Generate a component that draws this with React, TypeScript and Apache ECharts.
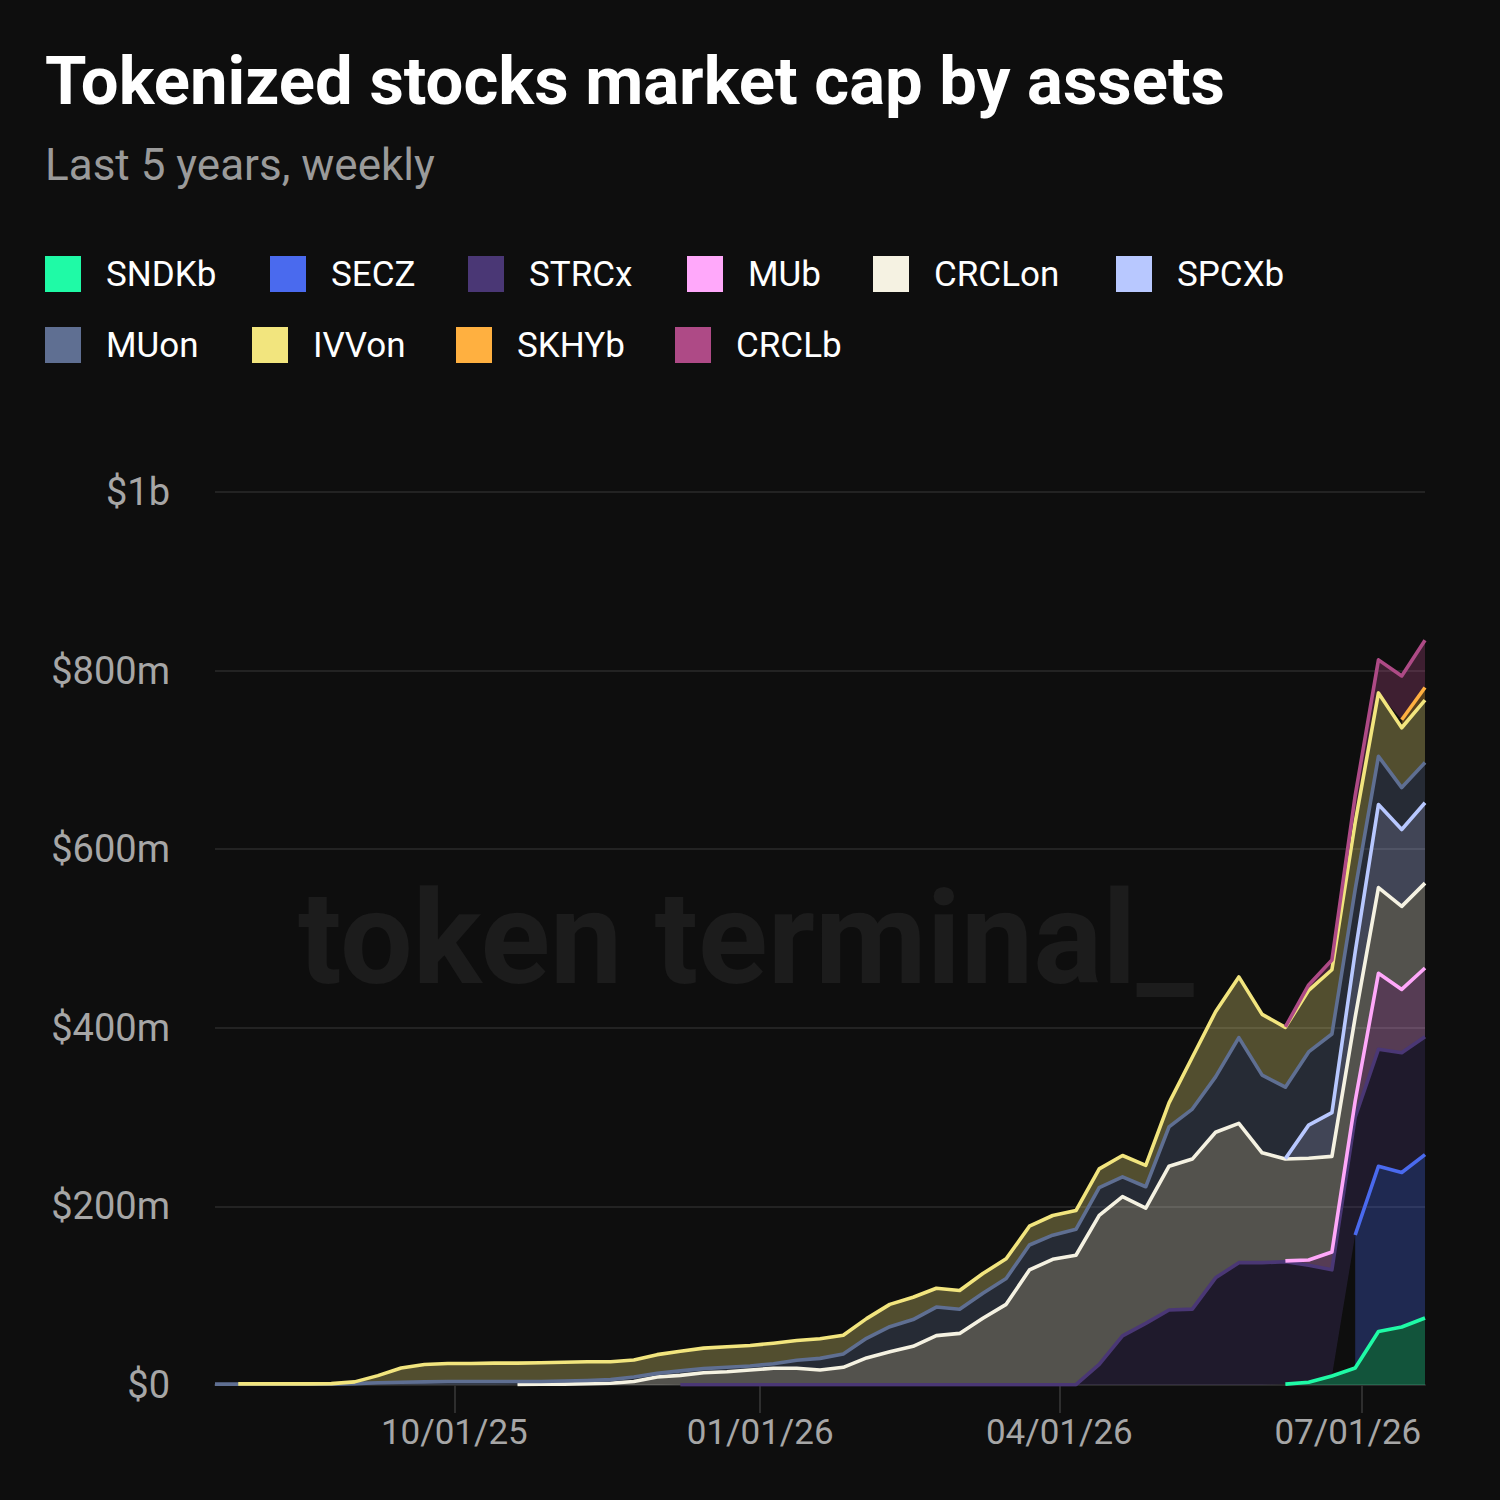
import React, { useEffect, useRef } from "react";
import * as echarts from "echarts";

const startDate = Date.UTC(2025, 6, 21);
const WEEK = 7 * 24 * 3600 * 1000;

const seriesNames = ["SNDKb", "SECZ", "STRCx", "MUb", "CRCLon", "SPCXb", "MUon", "IVVon", "SKHYb", "CRCLb"];
const seriesColors = ["#1ffaa6", "#4a6aee", "#4a3775", "#ffa8fa", "#f5f2e2", "#b8c8ff", "#5f6f92", "#f2e57e", "#ffb040", "#ae4a86"];

const N = null;
// values in $m, weekly
const SNDKb = [N,N,N,N,N,N,N,N,N,N, N,N,N,N,N,N,N,N,N,N, N,N,N,N,N,N,N,N,N,N, N,N,N,N,N,N,N,N,N,N, N,N,N,N,N,N, 1,3,10,19,60,65,75];
const SECZ = [N,N,N,N,N,N,N,N,N,N, N,N,N,N,N,N,N,N,N,N, N,N,N,N,N,N,N,N,N,N, N,N,N,N,N,N,N,N,N,N, N,N,N,N,N,N,N,N,N, 149,185,173,183];
const STRCx = [N,N,N,N,N,N,N,N,N,N, N,N,N,N,N,N,N,N,N,N, 0.3,0.3,0.3,0.3,0.3,0.3,0.3,0.3,0.3,0.3, 0.3,0.3,0.3,0.3,0.3,0.3,0.3,0.3, 23,55,69,84,85,120,137,137,137,131,119,132,131,134,132];
const MUb = [N,N,N,N,N,N,N,N,N,N, N,N,N,N,N,N,N,N,N,N, N,N,N,N,N,N,N,N,N,N, N,N,N,N,N,N,N,N,N,N, N,N,N,N,N,N, 1,6,20,18,85,71,77];
const CRCLon = [N,N,N,N,N,N,N,N,N,N, N,N,N, 0.5,1,1,1.5,2,4,9, 10.5,13.5,14.5,16.5,18.5,18.5,16.5,19.5,30,37, 43,55,57.5,74.5,90,128.5,140.5,145,167,156, 129,161,168,163,156,123,114,114,107,94,96,93,95];
const SPCXb = [N,N,N,N,N,N,N,N,N,N, N,N,N,N,N,N,N,N,N,N, N,N,N,N,N,N,N,N,N,N, N,N,N,N,N,N,N,N,N,N, N,N,N,N,N,N, 0.5,37,49,73,93,86,90];
const MUon = [1,1,1,1,1,1,1.5,2.5,3,3.5, 4,4,4,3.5,3,3.5,3.5,4,5,4, 5,4.5,5,4.5,5,9,13,15,22,28, 30,32,27,28,29,28,27,29,31,22, 24,44,56,62,96,87,80,82,88,70,54,47,45];
const IVVon = [N,0.3,0.3,0.3,0.3,0.5,2,8,16,19.5, 20,20,20.5,20.5,21,21,21,20,19,21, 22,23,23,23,23,22,22,21,22,25, 25,21,21,22,22,21,22,21,21,24, 24,27,58,73,68,68,67,69,72,75,71,67,70];
const SKHYb = [N,N,N,N,N,N,N,N,N,N, N,N,N,N,N,N,N,N,N,N, N,N,N,N,N,N,N,N,N,N, N,N,N,N,N,N,N,N,N,N, N,N,N,N,N,N,N,N,N,N,N, 9,14];
const CRCLb = [N,N,N,N,N,N,N,N,N,N, N,N,N,N,N,N,N,N,N,N, N,N,N,N,N,N,N,N,N,N, N,N,N,N,N,N,N,N,N,N, N,N,N,N,N,N, 0.5,6,11,30,37,49,53];

const seriesValues = [SNDKb, SECZ, STRCx, MUb, CRCLon, SPCXb, MUon, IVVon, SKHYb, CRCLb];

const xTickDates = [Date.UTC(2025, 9, 1), Date.UTC(2026, 0, 1), Date.UTC(2026, 3, 1), Date.UTC(2026, 6, 1)];

const legendPositions = [
  [45, 256], [270, 256], [468, 256], [687, 256], [873, 256], [1116, 256],
  [45, 327], [252, 327], [456, 327], [675, 327],
];

const FONT = "Roboto";

function fmtDate(v: number) {
  const d = new Date(v);
  const mm = String(d.getUTCMonth() + 1).padStart(2, "0");
  const dd = String(d.getUTCDate()).padStart(2, "0");
  const yy = String(d.getUTCFullYear() % 100).padStart(2, "0");
  return `${mm}/${dd}/${yy}`;
}

export default function App() {
  const ref = useRef<HTMLDivElement>(null);
  useEffect(() => {
    document.body.style.margin = "0";
    document.body.style.background = "#0e0e0e";
    if (!ref.current) return;
    const chart = echarts.init(ref.current, null, { renderer: "svg" });
    const dates = SNDKb.map((_, i) => startDate + i * WEEK);
    const lastTick = xTickDates[xTickDates.length - 1];

    const series = seriesNames.map((name, si) => ({
      name,
      type: "line",
      stack: "total",
      xAxisIndex: 0,
      yAxisIndex: 0,
      symbol: "none",
      connectNulls: false,
      color: seriesColors[si],
      lineStyle: { width: 3.6, color: seriesColors[si], join: "round" },
      areaStyle: { color: seriesColors[si], opacity: 0.3 },
      itemStyle: { color: seriesColors[si] },
      emphasis: { disabled: true },
      data: seriesValues[si].map((v) => (v == null ? "-" : v)),
      z: 2,
    }));

    const legends = seriesNames.map((name, i) => ({
      left: legendPositions[i][0],
      top: legendPositions[i][1],
      padding: 0,
      data: [name],
      icon: "rect",
      itemWidth: 36,
      itemHeight: 36,
      selectedMode: false,
      itemStyle: { borderWidth: 0 },
      textStyle: { color: "#ffffff", fontSize: 35, fontFamily: FONT, padding: [0, 0, 0, 20] },
    }));

    chart.setOption({
      animation: false,
      backgroundColor: "#0e0e0e",
      title: {
        text: "Tokenized stocks market cap by assets",
        subtext: "Last 5 years, weekly",
        left: 40,
        top: 42,
        itemGap: 29,
        textStyle: { color: "#ffffff", fontSize: 67, fontWeight: "bold", fontFamily: FONT },
        subtextStyle: { color: "#9a9a9a", fontSize: 44, fontFamily: FONT },
      },
      legend: legends,
      graphic: [
        {
          type: "text",
          x: 298,
          y: 874,
          z: 0,
          silent: true,
          style: { text: "token terminal_", fontSize: 129, fontWeight: 700, fontFamily: FONT, fill: "#1c1c1c" },
        },
      ],
      grid: { left: 215, right: 75, top: 492, bottom: 115 },
      xAxis: [
        {
          type: "category",
          position: "bottom",
          boundaryGap: false,
          data: dates.map(fmtDate),
          axisLine: { show: false },
          axisTick: { show: false },
          axisLabel: { show: false },
          splitLine: { show: false },
        },
        {
          type: "value",
          position: "bottom",
          min: dates[0],
          max: dates[dates.length - 1],
          axisLine: { show: true, lineStyle: { color: "#2a2a2a", width: 2 } },
          axisTick: { show: true, customValues: xTickDates, length: 28, lineStyle: { color: "#2e2e2e", width: 2 } },
          splitLine: { show: false },
          axisLabel: {
            customValues: xTickDates,
            color: "#a6a6a6",
            fontSize: 35,
            fontFamily: FONT,
            margin: 30,
            formatter: (v: number) => (v === lastTick ? `{last|${fmtDate(v)}}` : fmtDate(v)),
            rich: { last: { padding: [0, 28, 0, 0], color: "#a6a6a6", fontSize: 35, fontFamily: FONT } },
          },
        },
      ],
      yAxis: {
        type: "value",
        min: 0,
        max: 1000,
        interval: 200,
        axisLine: { show: false },
        axisTick: { show: false },
        splitLine: { show: true, lineStyle: { color: "#232323", width: 2 } },
        axisLabel: {
          color: "#a6a6a6",
          fontSize: 38,
          fontFamily: FONT,
          margin: 45,
          formatter: (v: number) => (v === 0 ? "$0" : v >= 1000 ? `$${v / 1000}b` : `$${v}m`),
        },
      },
      series,
    });
    return () => chart.dispose();
  }, []);
  return <div ref={ref} style={{ width: 1500, height: 1500, background: "#0e0e0e" }} />;
}
